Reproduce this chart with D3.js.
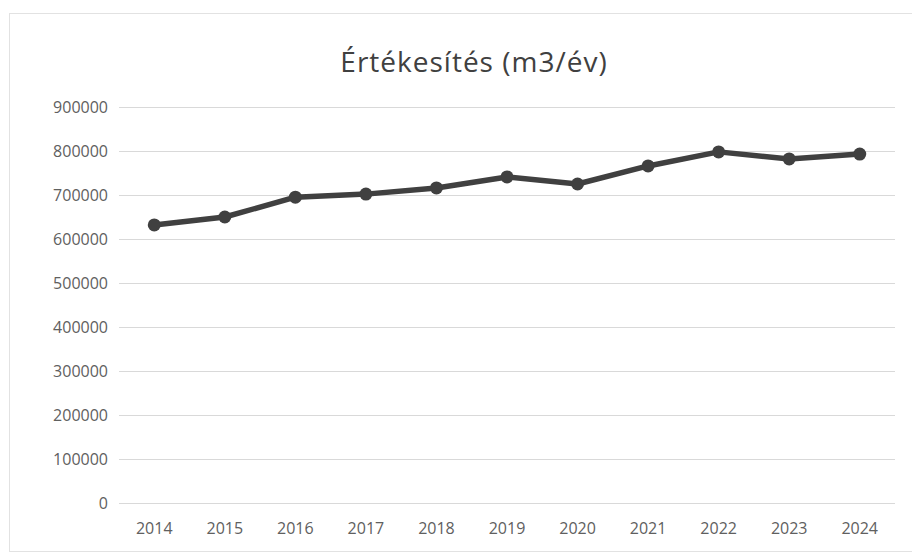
<!DOCTYPE html>
<html>
<head>
<meta charset="utf-8">
<script src="https://cdn.jsdelivr.net/npm/d3@7"></script>
<style>
  body { margin: 0; background: #fff; }
  text { font-family: "Open Sans", "Noto Sans", sans-serif; }
</style>
</head>
<body>
<div id="chart"></div>
<script>
const [width, height] = [912, 555];
const margin = {top: 107, left: 119};
const [plotW, plotH] = [776, 396];

// data
const years = ["2014", "2015", "2016", "2017", "2018", "2019", "2020", "2021", "2022", "2023", "2024"];
const sales = [632000, 650000, 695000, 702000, 716000, 741000, 725000, 766000, 798000, 782000, 793000];
const yTicks = [0, 100000, 200000, 300000, 400000, 500000, 600000, 700000, 800000, 900000];
const title = "Értékesítés (m3/év)";

const svg = d3.select("#chart")
    .append("svg")
    .attr("width", width)
    .attr("height", height);

// chart frame
svg.append("rect")
    .attr("x", 9.5).attr("y", 13.5)
    .attr("width", width + 10).attr("height", 538)
    .attr("fill", "none")
    .attr("stroke", "#e2e2e2");

const g = svg.append("g")
    .attr("transform", `translate(${margin.left}, ${margin.top})`);

const x = d3.scaleBand()
    .domain(years)
    .range([0, plotW]);

const y = d3.scaleLinear()
    .domain([0, 900000])
    .range([plotH, 0]);

// gridlines
g.selectAll(".grid")
    .data(yTicks)
    .enter()
    .append("line")
    .attr("class", "grid")
    .attr("x1", 0)
    .attr("x2", plotW)
    .attr("y1", d => y(d) + 0.5)
    .attr("y2", d => y(d) + 0.5)
    .attr("stroke", "#d9d9d9")
    .attr("stroke-width", 1);

// y labels
g.selectAll(".ylab")
    .data(yTicks)
    .enter()
    .append("text")
    .attr("class", "ylab")
    .attr("x", -11)
    .attr("y", d => y(d))
    .attr("dy", "0.35em")
    .attr("text-anchor", "end")
    .attr("fill", "#606060")
    .style("font-size", "16px")
    .text(d => d);

// x labels
g.selectAll(".xlab")
    .data(years)
    .enter()
    .append("text")
    .attr("class", "xlab")
    .attr("x", d => x(d) + x.bandwidth() / 2)
    .attr("y", plotH + 31)
    .attr("text-anchor", "middle")
    .attr("fill", "#606060")
    .style("font-size", "16px")
    .text(d => d);

// line
const line = d3.line()
    .x((d, i) => x(years[i]) + x.bandwidth() / 2)
    .y(d => y(d));

g.append("path")
    .datum(sales)
    .attr("fill", "none")
    .attr("stroke", "#404040")
    .attr("stroke-width", 5.5)
    .attr("stroke-linejoin", "round")
    .attr("d", line);

g.selectAll(".dot")
    .data(sales)
    .enter()
    .append("circle")
    .attr("class", "dot")
    .attr("cx", (d, i) => x(years[i]) + x.bandwidth() / 2)
    .attr("cy", d => y(d))
    .attr("r", 6.5)
    .attr("fill", "#404040");

// title
svg.append("text")
    .attr("x", 474)
    .attr("y", 72)
    .attr("text-anchor", "middle")
    .attr("fill", "#404040")
    .style("font-size", "28px")
    .style("letter-spacing", "1px")
    .text(title);
</script>
</body>
</html>
